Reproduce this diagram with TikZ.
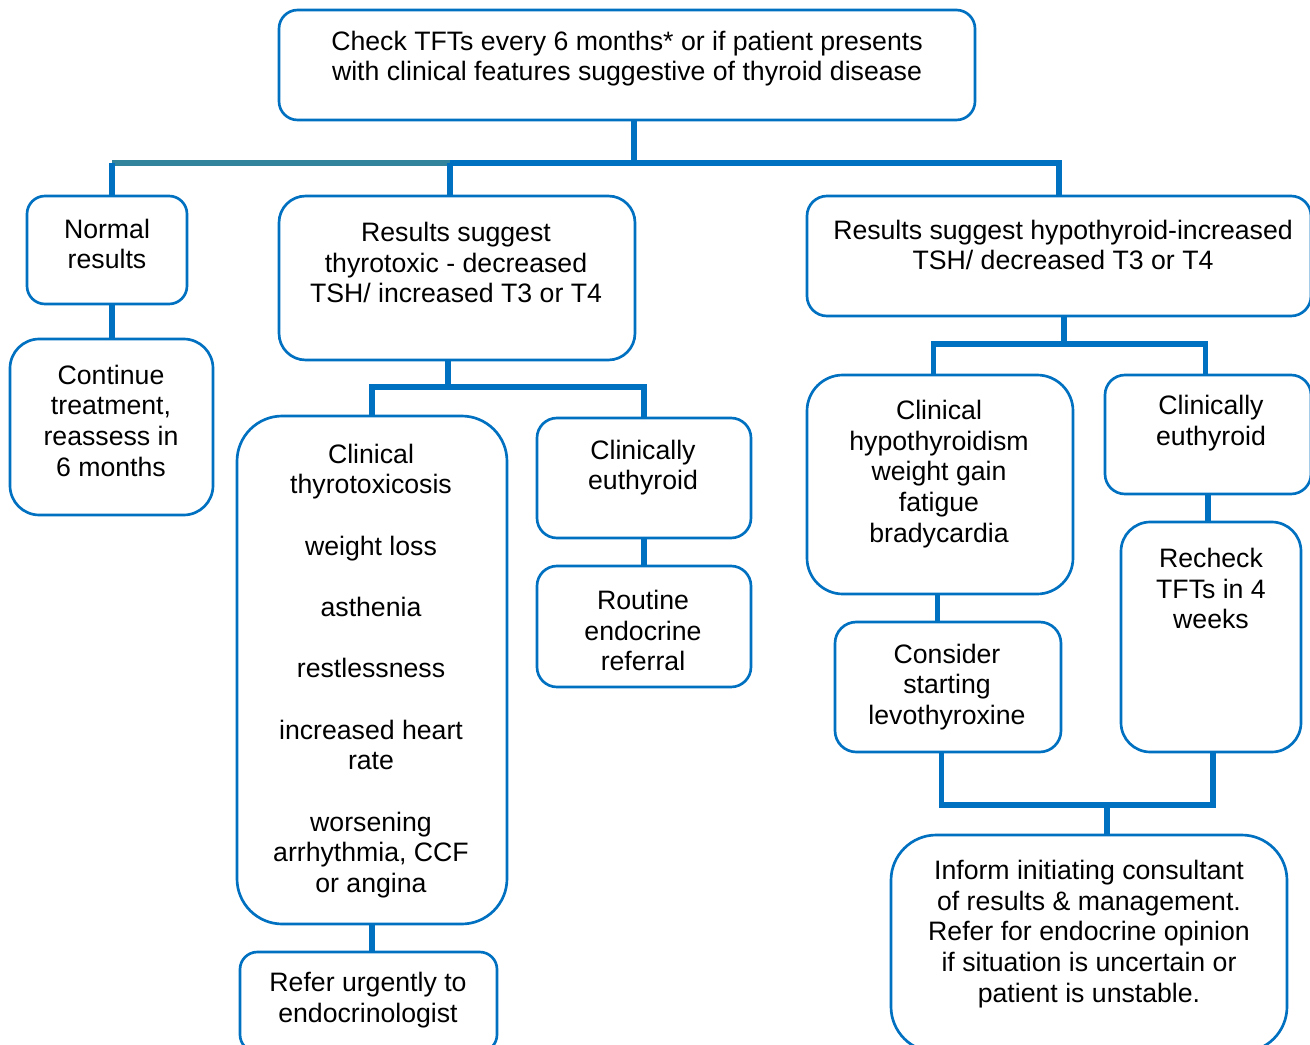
\documentclass[tikz,border=0pt]{standalone}
\usepackage{fontspec}
\setmainfont{Liberation Sans}
\usetikzlibrary{fit,calc}
\definecolor{bl}{HTML}{0070C0}
\definecolor{tl}{HTML}{31849B}
\tikzset{
 box/.style={draw=bl, line width=2pt, inner sep=0pt, rounded corners=#1},
 box/.default=15pt,
 txt/.style={align=center, font=\fontsize{20}{23}\selectfont, inner sep=0pt, text=black, yshift=-1.5pt},
 conn/.style={draw=bl, line width=3.8pt},
 tconn/.style={draw=tl, line width=4.2pt},
}
\begin{document}
\begin{tikzpicture}[x=0.75pt,y=-0.75pt]
\useasboundingbox[fill=white] (0,0) rectangle (1310,1045);
% boxes
\node[box=14pt, fit={(279,10) (975,120)}] (top) {};
\node[box=13.5pt, fit={(27,196) (187,304)}] (normal) {};
\node[box=22pt, fit={(10,339) (213,515)}] (cont) {};
\node[box=20pt, fit={(279,196) (635,360)}] (thy) {};
\node[box=34pt, fit={(237,416) (507,924)}] (tox) {};
\node[box=13pt, fit={(240,952) (497,1052)}] (refer) {};
\node[box=15pt, fit={(537,418) (751,538)}] (eua) {};
\node[box=15pt, fit={(537,566) (751,687)}] (rout) {};
\node[box=15pt, fit={(807,196) (1311,316)}] (hypo) {};
\node[box=27pt, fit={(807,375) (1073,594)}] (chypo) {};
\node[box=15pt, fit={(1105,375) (1311,494)}] (eub) {};
\node[box=16pt, fit={(835,622) (1061,752)}] (cons) {};
\node[box=22pt, fit={(1121,522) (1301,752)}] (rech) {};
\node[box=34pt, fit={(891,835) (1287,1052)}] (inform) {};
% texts
\node[txt] (top-t) at (627,56.5) {Check TFTs every 6 months* or if patient presents\\with clinical features suggestive of thyroid disease};
\node[txt] (normal-t) at (107,242) {Normal\\results};
\node[txt] (cont-t) at (111,418.5) {Continue\\treatment,\\reassess in\\6 months};
\node[txt] (thy-t) at (456,260.5) {Results suggest\\thyrotoxic - decreased\\TSH/ increased T3 or T4};
\node[txt] (tox-t) at (371,669) {Clinical\\thyrotoxicosis\\[23pt]weight loss\\[23pt]asthenia\\[23pt]restlessness\\[23pt]increased heart\\rate\\[23pt]worsening\\arrhythmia, CCF\\or angina};
\node[txt] (refer-t) at (368,998) {Refer urgently to\\endocrinologist};
\node[txt] (eua-t) at (643,465.5) {Clinically\\euthyroid};
\node[txt] (rout-t) at (643,628.5) {Routine\\endocrine\\referral};
\node[txt] (hypo-t) at (1063,243) {Results suggest hypothyroid-increased\\TSH/ decreased T3 or T4};
\node[txt] (chypo-t) at (939,472) {Clinical\\hypothyroidism\\weight gain\\fatigue\\bradycardia};
\node[txt] (eub-t) at (1211,421) {Clinically\\euthyroid};
\node[txt] (cons-t) at (947,685) {Consider\\starting\\levothyroxine};
\node[txt] (rech-t) at (1211,586.5) {Recheck\\TFTs in 4\\weeks};
\node[txt] (inform-t) at (1089,932) {Inform initiating consultant\\of results \& management.\\Refer for endocrine opinion\\if situation is uncertain or\\patient is unstable.};
% junctions
\coordinate (jt) at (634,163);
\coordinate (jthy) at (450,163);
\coordinate (jx) at (448,387);
\coordinate (jh) at (1064,344);
\coordinate (jb) at (1107,805);
% connectors
\draw[conn] (top.south -| jt) -- (jt);
\draw[conn] (jthy) -- (jt) -| (hypo.north);
\draw[tconn] ([xshift=3.75pt]normal.north |- jt) -- (jthy);
\draw[conn] ([xshift=3.75pt]normal.north) -- ([xshift=3.75pt]normal.north |- jt);
\draw[conn] (jthy) -- (jthy |- thy.north);
\draw[conn] ([xshift=3.75pt]normal.south) -- ([xshift=3.75pt]normal.south |- cont.north);
\draw[conn] (thy.south -| jx) -- (jx);
\draw[conn] (tox.north) |- (jx) -| (eua.north);
\draw[conn] (tox.south) -- (tox.south |- refer.north);
\draw[conn] (eua.south) -- (eua.south |- rout.north);
\draw[conn] (hypo.south -| jh) -- (jh);
\draw[conn] ([xshift=-5pt]chypo.north) |- (jh) -| ([xshift=-2pt]eub.north);
\draw[conn] ([xshift=-2pt]chypo.south) -- ([xshift=-2pt]chypo.south |- cons.north);
\draw[conn] (eub.south) -- (eub.south |- rech.north);
\draw[conn] ([xshift=-5pt]cons.south) |- (jb);
\draw[conn] ([xshift=1.5pt]rech.south) |- (jb);
\draw[conn] (jb) -- (jb |- inform.north);
\end{tikzpicture}
\end{document}
